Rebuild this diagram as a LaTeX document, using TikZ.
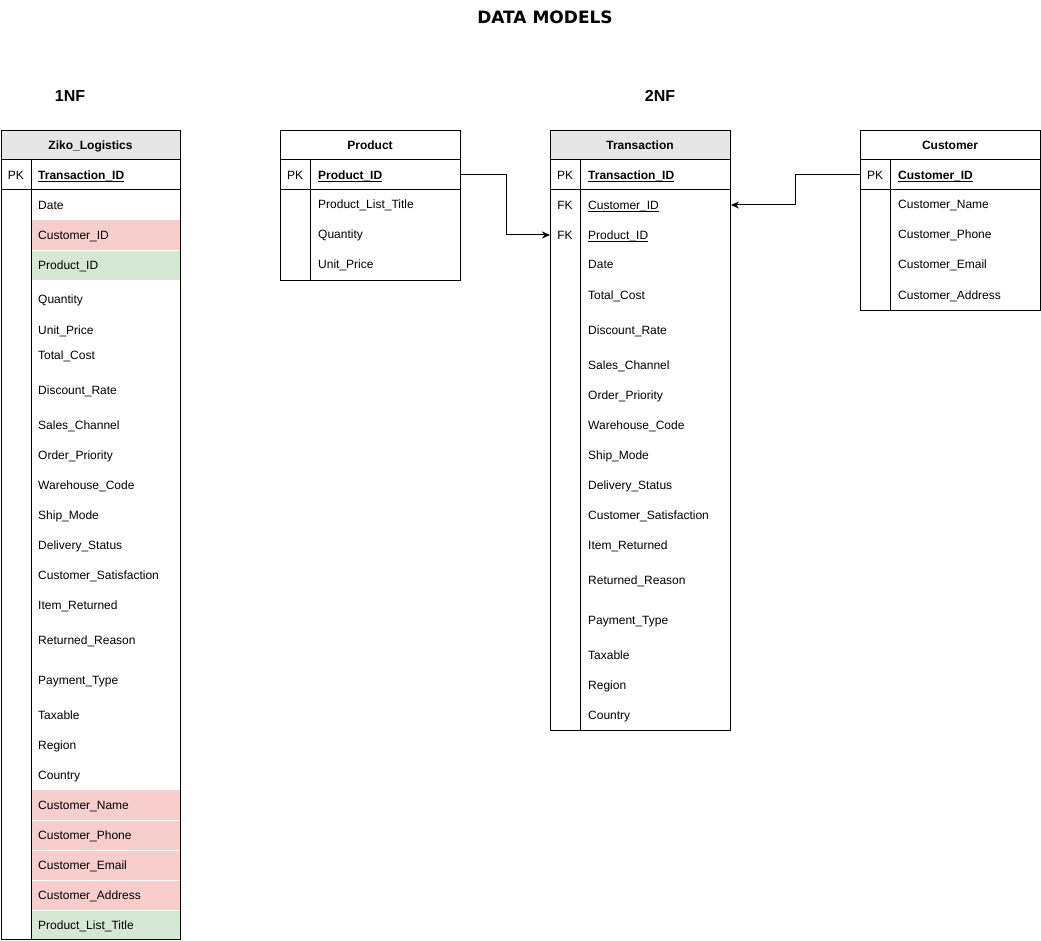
\documentclass[tikz,border=0pt]{standalone}
\usepackage{fontspec}
\setmainfont{Liberation Sans}
\newfontfamily\titlefont{DejaVu Sans}
\usetikzlibrary{arrows.meta}
\definecolor{hdrgray}{HTML}{E6E6E6}
\definecolor{redrow}{HTML}{F8CECC}
\definecolor{greenrow}{HTML}{D5E8D4}
\newcommand\myul[1]{\setbox0\hbox{#1}\rlap{\rule[-1.6pt]{\wd0}{0.7pt}}\box0}
\tikzset{
  tblbox/.style={draw, line width=1pt, anchor=north west, minimum width=180pt, inner sep=0},
  sep/.style={line width=1pt},
  fld/.style={anchor=west, inner sep=0, text height=11pt, text depth=1pt, font=\fontsize{12}{14}\selectfont},
  keycell/.style={anchor=center, inner sep=0, text height=11pt, text depth=1pt, font=\fontsize{12}{14}\selectfont},
  hdrtxt/.style={anchor=center, inner sep=0, text height=11pt, text depth=1pt, font=\bfseries\fontsize{12}{14}\selectfont},
  conn/.style={line width=1pt, -{Stealth[length=8pt,width=7pt]}},
  nf/.style={font=\bfseries\fontsize{16}{18}\selectfont, inner sep=0}
}
\begin{document}
\begin{tikzpicture}[x=1pt,y=-1pt]
\useasboundingbox (0,0) rectangle (1041,941);
\node[font=\titlefont\bfseries\fontsize{17}{19}\selectfont, inner sep=0] (title) at (545,17) {DATA MODELS};
\node[nf] (nf1) at (70,96) {1NF};
\node[nf] (nf2) at (660,96) {2NF};

% ---------- Ziko_Logistics ----------
\fill[hdrgray] (1,130) rectangle (180,160);
\fill[redrow] (31,220) rectangle (180,250);
\fill[greenrow] (31,250) rectangle (180,280);
\fill[redrow] (31,790) rectangle (180,910);
\fill[greenrow] (31,910) rectangle (180,939);
\draw[white, line width=0.6pt] (31,820) -- (180,820) (31,850) -- (180,850) (31,880) -- (180,880) (31,250) -- (180,250) (31,910) -- (180,910);
\node[tblbox, minimum width=179pt, minimum height=809pt] (ziko) at (1,130) {};
\draw[sep] (1,160) -- (180,160) (1,190) -- (180,190) (31,160) -- (31,939);
\node[hdrtxt] (zikoh) at (90.5,145) {Ziko\_Logistics};
\node[keycell] (zpkl) at (16,175) {PK};
\node[fld, font=\bfseries\fontsize{12}{14}\selectfont] (zpk) at (38,175) {\myul{Transaction\_ID}};
\foreach \t/\y [count=\i] in {Date/205, Customer\_ID/235, Product\_ID/265, Quantity/299, Unit\_Price/329, Total\_Cost/354, Discount\_Rate/389, Sales\_Channel/424, Order\_Priority/454, Warehouse\_Code/484, Ship\_Mode/514, Delivery\_Status/544, Customer\_Satisfaction/574, Item\_Returned/604, Returned\_Reason/639, Payment\_Type/679, Taxable/714, Region/744, Country/774, Customer\_Name/804, Customer\_Phone/834, Customer\_Email/864, Customer\_Address/894, Product\_List\_Title/924}
  \node[fld] (z\i) at (38,\y) {\t};

% ---------- Product ----------
\node[tblbox, minimum height=150pt] (product) at (280,130) {};
\draw[sep] (280,160) -- (460,160) (280,190) -- (460,190) (310,160) -- (310,280);
\node[hdrtxt] (producth) at (370,145) {Product};
\node[keycell] (ppkl) at (295,175) {PK};
\node[fld, font=\bfseries\fontsize{12}{14}\selectfont] (ppk) at (318,175) {\myul{Product\_ID}};
\foreach \t/\y [count=\i] in {Product\_List\_Title/204, Quantity/234, Unit\_Price/264}
  \node[fld] (p\i) at (318,\y) {\t};

% ---------- Transaction ----------
\fill[hdrgray] (550,130) rectangle (730,160);
\node[tblbox, minimum height=600pt] (trans) at (550,130) {};
\draw[sep] (550,160) -- (730,160) (550,190) -- (730,190) (580,160) -- (580,730);
\node[hdrtxt] (transh) at (640,145) {Transaction};
\node[keycell] (tpkl) at (565,175) {PK};
\node[fld, font=\bfseries\fontsize{12}{14}\selectfont] (tpk) at (588,175) {\myul{Transaction\_ID}};
\node[keycell] (tfk1l) at (565,205) {FK};
\node[fld] (tcid) at (588,205) {\myul{Customer\_ID}};
\node[keycell] (tfk2l) at (565,235) {FK};
\node[fld] (tpid) at (588,235) {\myul{Product\_ID}};
\foreach \t/\y [count=\i] in {Date/264, Total\_Cost/294, Discount\_Rate/329, Sales\_Channel/364, Order\_Priority/394, Warehouse\_Code/424, Ship\_Mode/454, Delivery\_Status/484, Customer\_Satisfaction/514, Item\_Returned/544, Returned\_Reason/579, Payment\_Type/619, Taxable/654, Region/684, Country/714}
  \node[fld] (t\i) at (588,\y) {\t};

% ---------- Customer ----------
\node[tblbox, minimum height=180pt] (cust) at (860,130) {};
\draw[sep] (860,160) -- (1040,160) (860,190) -- (1040,190) (890,160) -- (890,310);
\node[hdrtxt] (custh) at (950,145) {Customer};
\node[keycell] (cpkl) at (875,175) {PK};
\node[fld, font=\bfseries\fontsize{12}{14}\selectfont] (cpk) at (898,175) {\myul{Customer\_ID}};
\foreach \t/\y [count=\i] in {Customer\_Name/204, Customer\_Phone/234, Customer\_Email/264, Customer\_Address/294}
  \node[fld] (c\i) at (898,\y) {\t};

% ---------- connectors ----------
\draw[conn] (product.east |- ppkl) -- ++(45,0) |- (trans.west |- tfk2l);
\draw[conn] (cust.west |- cpkl) -- ++(-65,0) |- (trans.east |- tcid);
\end{tikzpicture}
\end{document}
